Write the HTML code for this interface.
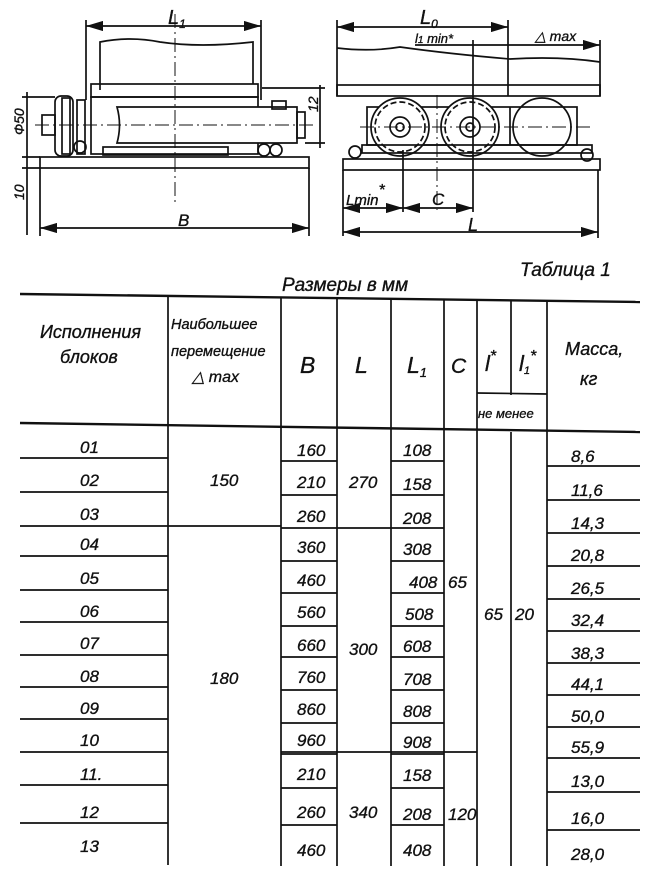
<!DOCTYPE html>
<html><head><meta charset="utf-8"><style>
html,body{margin:0;padding:0;background:#fff;}
svg{display:block}
text{font-family:"Liberation Sans",sans-serif;font-style:italic;fill:#111;stroke:#111;stroke-width:0.35;}
</style></head><body>
<svg width="650" height="876" viewBox="0 0 650 876" xmlns="http://www.w3.org/2000/svg">
<defs><marker id="a" viewBox="0 0 10 6" refX="10" refY="3" markerWidth="10" markerHeight="6" orient="auto-start-reverse"><path d="M0 0L10 3L0 6Z" fill="#111"/></marker></defs>
<g stroke="#111" stroke-width="1.7" fill="none">
<!-- LEFT VIEW -->
<line x1="86" y1="20" x2="86" y2="100"/><line x1="261" y1="20" x2="261" y2="100"/>
<line x1="86" y1="26" x2="261" y2="26" marker-start="url(#a)" marker-end="url(#a)"/>
<path d="M100 90 L100 42 Q130 36 160 42 Q200 48 253 42 L253 84"/>
<rect x="91" y="84" width="167" height="13"/>
<rect x="91" y="97" width="167" height="57"/>
<path d="M117 107 L297 107 L297 143 L117 143 Q122 125 117 107Z" fill="#fff"/>
<rect x="297" y="112" width="8" height="26"/><rect x="272" y="101" width="14" height="8"/>
<rect x="55" y="96" width="18" height="60" rx="6"/><rect x="62" y="98" width="8" height="56"/>
<rect x="77" y="100" width="8" height="54"/>
<rect x="42" y="115" width="13" height="20"/>
<rect x="103" y="147" width="125" height="8"/>
<circle cx="80" cy="147" r="6"/><circle cx="264" cy="150" r="6"/><circle cx="276" cy="150" r="6"/>
<rect x="40" y="157" width="269" height="11"/>
<line x1="40" y1="168" x2="40" y2="236"/><line x1="309" y1="168" x2="309" y2="236"/>
<line x1="40" y1="228" x2="309" y2="228" marker-start="url(#a)" marker-end="url(#a)"/>
<line x1="22" y1="97" x2="55" y2="97"/><line x1="22" y1="157" x2="40" y2="157"/><line x1="22" y1="168" x2="40" y2="168"/>
<line x1="27" y1="92" x2="27" y2="235"/>
<line x1="262" y1="88" x2="325" y2="88"/><line x1="305" y1="143" x2="325" y2="143"/>
<line x1="320" y1="85" x2="320" y2="148"/>
<line x1="175" y1="14" x2="175" y2="205" stroke-dasharray="14,4,2,4" stroke-width="1"/>
<line x1="35" y1="125" x2="315" y2="125" stroke-dasharray="14,4,2,4" stroke-width="1"/>
<!-- RIGHT VIEW -->
<line x1="337" y1="20" x2="337" y2="96"/><line x1="508" y1="20" x2="508" y2="96"/>
<line x1="337" y1="27" x2="508" y2="27" marker-start="url(#a)" marker-end="url(#a)"/>
<line x1="415" y1="45" x2="600" y2="45" marker-end="url(#a)"/>
<path d="M337 48 Q370 52 400 47 Q450 54 510 59 Q560 56 600 62"/>
<rect x="337" y="85" width="263" height="11"/>
<line x1="600" y1="40" x2="600" y2="96"/>
<rect x="367" y="107" width="210" height="38"/>
<line x1="510" y1="107" x2="510" y2="145"/>
<circle cx="400" cy="127" r="29" fill="#fff"/><circle cx="400" cy="127" r="25" stroke-dasharray="6,3"/>
<circle cx="400" cy="127" r="10"/><circle cx="400" cy="127" r="4"/>
<circle cx="470" cy="127" r="29" fill="#fff"/><circle cx="470" cy="127" r="25" stroke-dasharray="6,3"/>
<circle cx="470" cy="127" r="10"/><circle cx="470" cy="127" r="4"/>
<circle cx="542" cy="127" r="29"/>
<rect x="362" y="145" width="230" height="8"/>
<circle cx="355" cy="152" r="6"/><circle cx="587" cy="155" r="6"/>
<rect x="343" y="159" width="257" height="11"/>
<line x1="343" y1="170" x2="343" y2="236"/><line x1="598" y1="170" x2="598" y2="238"/>
<line x1="403" y1="150" x2="403" y2="212"/><line x1="473" y1="40" x2="473" y2="212"/>
<line x1="343" y1="208" x2="403" y2="208" marker-start="url(#a)" marker-end="url(#a)"/>
<line x1="403" y1="208" x2="473" y2="208" marker-start="url(#a)" marker-end="url(#a)"/>
<line x1="343" y1="232" x2="598" y2="232" marker-start="url(#a)" marker-end="url(#a)"/>
<line x1="437" y1="95" x2="437" y2="210" stroke-dasharray="14,4,2,4" stroke-width="1"/>
<line x1="360" y1="127" x2="590" y2="127" stroke-dasharray="14,4,2,4" stroke-width="1"/>
<!-- TABLE -->
<line x1="20" y1="294" x2="640" y2="302" stroke-width="2.4"/>
<line x1="20" y1="423" x2="640" y2="432" stroke-width="2.4"/>
<line x1="168" y1="296" x2="168" y2="865"/>
<line x1="281" y1="297" x2="281" y2="866"/>
<line x1="337" y1="298" x2="337" y2="866"/>
<line x1="391" y1="298" x2="391" y2="866"/>
<line x1="444" y1="299" x2="444" y2="866"/>
<line x1="477" y1="299" x2="477" y2="866"/>
<line x1="511" y1="300" x2="511" y2="395"/><line x1="511" y1="432" x2="511" y2="866"/>
<line x1="547" y1="300" x2="547" y2="866"/>
<line x1="477" y1="393" x2="547" y2="394"/>
<path d="M20 458H168M20 492H168M20 526H281M20 556H168M20 590H168M20 622H168M20 655H168M20 687H168M20 719H168M20 752H168M20 785H168M20 823H168"/>
<path d="M281 461H337M281 495H337M281 528H391M281 561H337M281 593H337M281 626H337M281 657H337M281 690H337M281 723H337M281 754H337M281 752H477M281 788H337M281 825H337"/>
<path d="M391 461H444M391 495H444M391 528H444M391 561H444M391 593H444M391 626H444M391 657H444M391 690H444M391 723H444M391 754H444M391 788H444M391 825H444"/>
<path d="M547 466H640M547 500H640M547 533H640M547 566H640M547 599H640M547 631H640M547 663H640M547 695H640M547 727H640M547 758H640M547 792H640M547 830H640"/>
</g>
<text x="168" y="24" font-size="20">L<tspan font-size="12" dy="4">1</tspan></text>
<text x="420" y="24" font-size="20">L<tspan font-size="12" dy="4">0</tspan></text>
<text x="415" y="43" font-size="13">l<tspan font-size="10">1</tspan> min*</text>
<text x="535" y="41" font-size="14">△ max</text>
<text x="178" y="226" font-size="17">B</text>
<text x="468" y="231" font-size="18">L</text>
<text x="346" y="205" font-size="15">Lmin<tspan dy="-10" font-size="16">*</tspan></text>
<text x="432" y="205" font-size="17">C</text>
<text transform="translate(24,135) rotate(-90)" font-size="14">Ф50</text>
<text transform="translate(24,200) rotate(-90)" font-size="14">10</text>
<text transform="translate(318,112) rotate(-90)" font-size="14">12</text>
<text x="520" y="276" font-size="19">Таблица 1</text>
<text x="282" y="291" font-size="19">Размеры в мм</text>
<text x="40" y="338" font-size="18">Исполнения</text>
<text x="60" y="363" font-size="18">блоков</text>
<text x="171" y="329" font-size="14.5">Наибольшее</text>
<text x="171" y="356" font-size="14.5">перемещение</text>
<text x="192" y="382" font-size="16">△ max</text>
<text x="300" y="373" font-size="23">B</text>
<text x="355" y="373" font-size="23">L</text>
<text x="407" y="373" font-size="23">L<tspan font-size="13" dy="4">1</tspan></text>
<text x="451" y="373" font-size="21">C</text>
<text x="485" y="371" font-size="22">l<tspan font-size="16" dy="-10">*</tspan></text>
<text x="519" y="371" font-size="22">l<tspan font-size="11" dy="3">1</tspan><tspan font-size="16" dy="-13">*</tspan></text>
<text x="478" y="418" font-size="13">не менее</text>
<text x="565" y="355" font-size="18">Масса,</text>
<text x="580" y="385" font-size="18">кг</text>
<g font-size="17">
<text x="80" y="453">01</text><text x="80" y="486">02</text><text x="80" y="520">03</text><text x="80" y="550">04</text>
<text x="80" y="584">05</text><text x="80" y="617">06</text><text x="80" y="649">07</text><text x="80" y="682">08</text>
<text x="80" y="714">09</text><text x="80" y="746">10</text><text x="80" y="780">11.</text><text x="80" y="818">12</text><text x="80" y="852">13</text>
<text x="210" y="486">150</text><text x="210" y="684">180</text>
<text x="297" y="456">160</text><text x="297" y="488">210</text><text x="297" y="522">260</text><text x="297" y="553">360</text>
<text x="297" y="586">460</text><text x="297" y="618">560</text><text x="297" y="651">660</text><text x="297" y="683">760</text>
<text x="297" y="715">860</text><text x="297" y="746">960</text><text x="297" y="780">210</text><text x="297" y="818">260</text><text x="297" y="856">460</text>
<text x="349" y="488">270</text><text x="349" y="655">300</text><text x="349" y="818">340</text>
<text x="403" y="456">108</text><text x="403" y="490">158</text><text x="403" y="524">208</text><text x="403" y="555">308</text>
<text x="409" y="588">408</text><text x="405" y="620">508</text><text x="403" y="652">608</text><text x="403" y="685">708</text>
<text x="403" y="717">808</text><text x="403" y="748">908</text><text x="403" y="781">158</text><text x="403" y="820">208</text><text x="403" y="856">408</text>
<text x="448" y="588">65</text><text x="448" y="820">120</text>
<text x="484" y="620">65</text><text x="515" y="620">20</text>
<text x="571" y="462">8,6</text><text x="571" y="496">11,6</text><text x="571" y="529">14,3</text><text x="571" y="561">20,8</text>
<text x="571" y="594">26,5</text><text x="571" y="626">32,4</text><text x="571" y="659">38,3</text><text x="571" y="690">44,1</text>
<text x="571" y="722">50,0</text><text x="571" y="753">55,9</text><text x="571" y="787">13,0</text><text x="571" y="824">16,0</text><text x="571" y="860">28,0</text>
</g>
</svg>
</body></html>
